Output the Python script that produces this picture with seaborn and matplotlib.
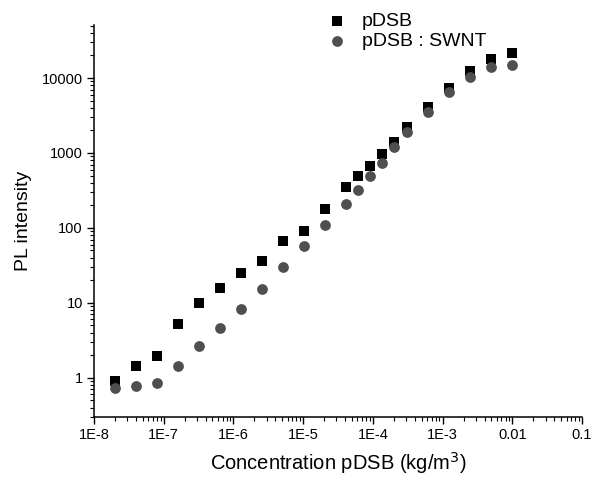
import numpy as np
import pandas as pd
import seaborn as sns
import matplotlib.pyplot as plt
from matplotlib.ticker import LogLocator, FixedLocator, FixedFormatter, NullFormatter

# concentrations (kg/m3)
conc = [2e-8, 4e-8, 8e-8, 1.6e-7, 3.2e-7, 6.4e-7, 1.28e-6, 2.56e-6, 5.12e-6,
        1.02e-5, 2.05e-5, 4.1e-5, 6.1e-5, 9.2e-5, 1.37e-4, 2.0e-4, 3.1e-4,
        6.2e-4, 1.24e-3, 2.48e-3, 5.0e-3, 1.0e-2]
# PL intensity, pDSB alone
pl_pdsb = [0.91, 1.43, 1.93, 5.3, 10.0, 15.8, 24.8, 36, 66, 91, 178, 350,
           495, 660, 955, 1420, 2200, 4150, 7300, 12300, 17900, 21500]
# PL intensity, pDSB : SWNT
pl_swnt = [0.73, 0.77, 0.84, 1.43, 2.65, 4.6, 8.4, 15.5, 29.9, 57.5, 110, 209,
           319, 495, 745, 1220, 1910, 3570, 6430, 10300, 14000, 15000]

series_names = ["pDSB", "pDSB : SWNT"]
x_ticks = [1e-8, 1e-7, 1e-6, 1e-5, 1e-4, 1e-3, 1e-2, 1e-1]
x_tick_labels = ["1E-8", "1E-7", "1E-6", "1E-5", "1E-4", "1E-3", "0.01", "0.1"]
y_ticks = [1, 10, 100, 1000, 10000]
y_tick_labels = ["1", "10", "100", "1000", "10000"]

df_a = pd.DataFrame({"conc": conc, "pl": pl_pdsb})
df_b = pd.DataFrame({"conc": conc, "pl": pl_swnt})

sns.set_style("ticks")
plt.rcParams["font.family"] = ["Liberation Sans", "DejaVu Sans"]
plt.rcParams["text.color"] = "black"

fig = plt.figure(figsize=(5.92, 4.79), dpi=100)
ax = fig.add_axes([94 / 592, 1 - 417 / 479, 488 / 592, 392 / 479])

# squares first, circles drawn on top
sns.scatterplot(data=df_a, x="conc", y="pl", marker="s", color="black",
                s=45, linewidth=0, label=series_names[0], ax=ax)
sns.scatterplot(data=df_b, x="conc", y="pl", marker="o", color="#4f4f4f",
                s=60, linewidth=0, label=series_names[1], ax=ax)

ax.set_xscale("log")
ax.set_yscale("log")
ax.set_xlim(1e-8, 0.1)
ax.set_ylim(0.3, 51000)

ax.xaxis.set_major_locator(FixedLocator(x_ticks))
ax.xaxis.set_major_formatter(FixedFormatter(x_tick_labels))
ax.xaxis.set_minor_locator(LogLocator(base=10, subs=np.arange(2, 10), numticks=20))
ax.xaxis.set_minor_formatter(NullFormatter())
ax.yaxis.set_major_locator(FixedLocator(y_ticks))
ax.yaxis.set_major_formatter(FixedFormatter(y_tick_labels))
ax.yaxis.set_minor_locator(LogLocator(base=10, subs=np.arange(2, 10), numticks=20))
ax.yaxis.set_minor_formatter(NullFormatter())

ax.tick_params(which="major", direction="out", length=5, width=1, labelsize=10.5,
               pad=3, color="black", labelcolor="black")
ax.tick_params(which="minor", direction="out", length=3, width=0.8, color="black")

for side in ["top", "right"]:
    ax.spines[side].set_visible(False)
for side in ["left", "bottom"]:
    ax.spines[side].set_linewidth(1.1)
    ax.spines[side].set_color("black")

ax.set_xlabel("Concentration pDSB (kg/m$^3$)", fontsize=14.5, labelpad=6, color="black")
ax.set_ylabel("PL intensity", fontsize=14, labelpad=7, color="black")

leg = ax.legend(loc="upper left", bbox_to_anchor=(327 / 592, 1 - 12 / 479),
                bbox_transform=fig.transFigure, frameon=False, fontsize=14,
                borderpad=0, handlelength=1, handletextpad=0.8, labelspacing=0.15,
                borderaxespad=0)
for t in leg.get_texts():
    t.set_color("black")

fig.savefig("out.png", dpi=100)
